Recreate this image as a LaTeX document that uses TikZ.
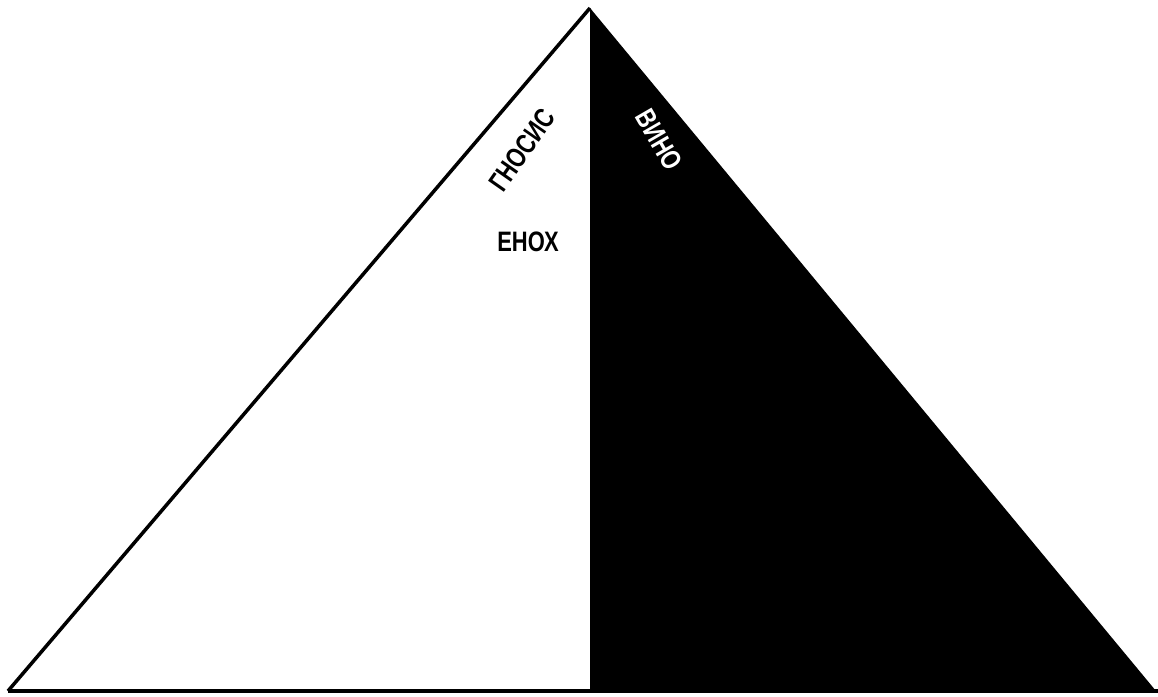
\documentclass[tikz,border=0pt]{standalone}
\usepackage{fontspec}
\setsansfont{Liberation Sans}
\newcommand{\narrowtext}[1]{\scalebox{0.78}[1]{#1}}
\begin{document}
\begin{tikzpicture}[x=0.02cm, y=0.02cm,
	label/.style={font=\sffamily\bfseries\fontsize{16}{16}\selectfont, inner sep=0pt}]
	\useasboundingbox (0,0) rectangle (1158,696);

	% Вершины
	\coordinate (apex) at (590,688);
	\coordinate (foot) at (590,5);
	\coordinate (left) at (8,5);
	\coordinate (right) at (1156,5);

	% Тёмная половина
	\fill[black] (apex) -- (right) -- (foot) -- cycle;

	% Контур
	\draw[line width=2pt, line join=miter] (left) -- (apex);
	\draw[line width=2.5pt] (left) -- (1158,5);

	% Подписи
	\node[label, rotate=55] (gnosis) at (522,546) {\narrowtext{ГНОСИС}};
	\node[label] (enoch) at (528,454) {\narrowtext{ЕНОХ}};
	\node[label, text=white, rotate=-60] (vino) at (659,556) {\narrowtext{ВИНО}};
\end{tikzpicture}
\end{document}
